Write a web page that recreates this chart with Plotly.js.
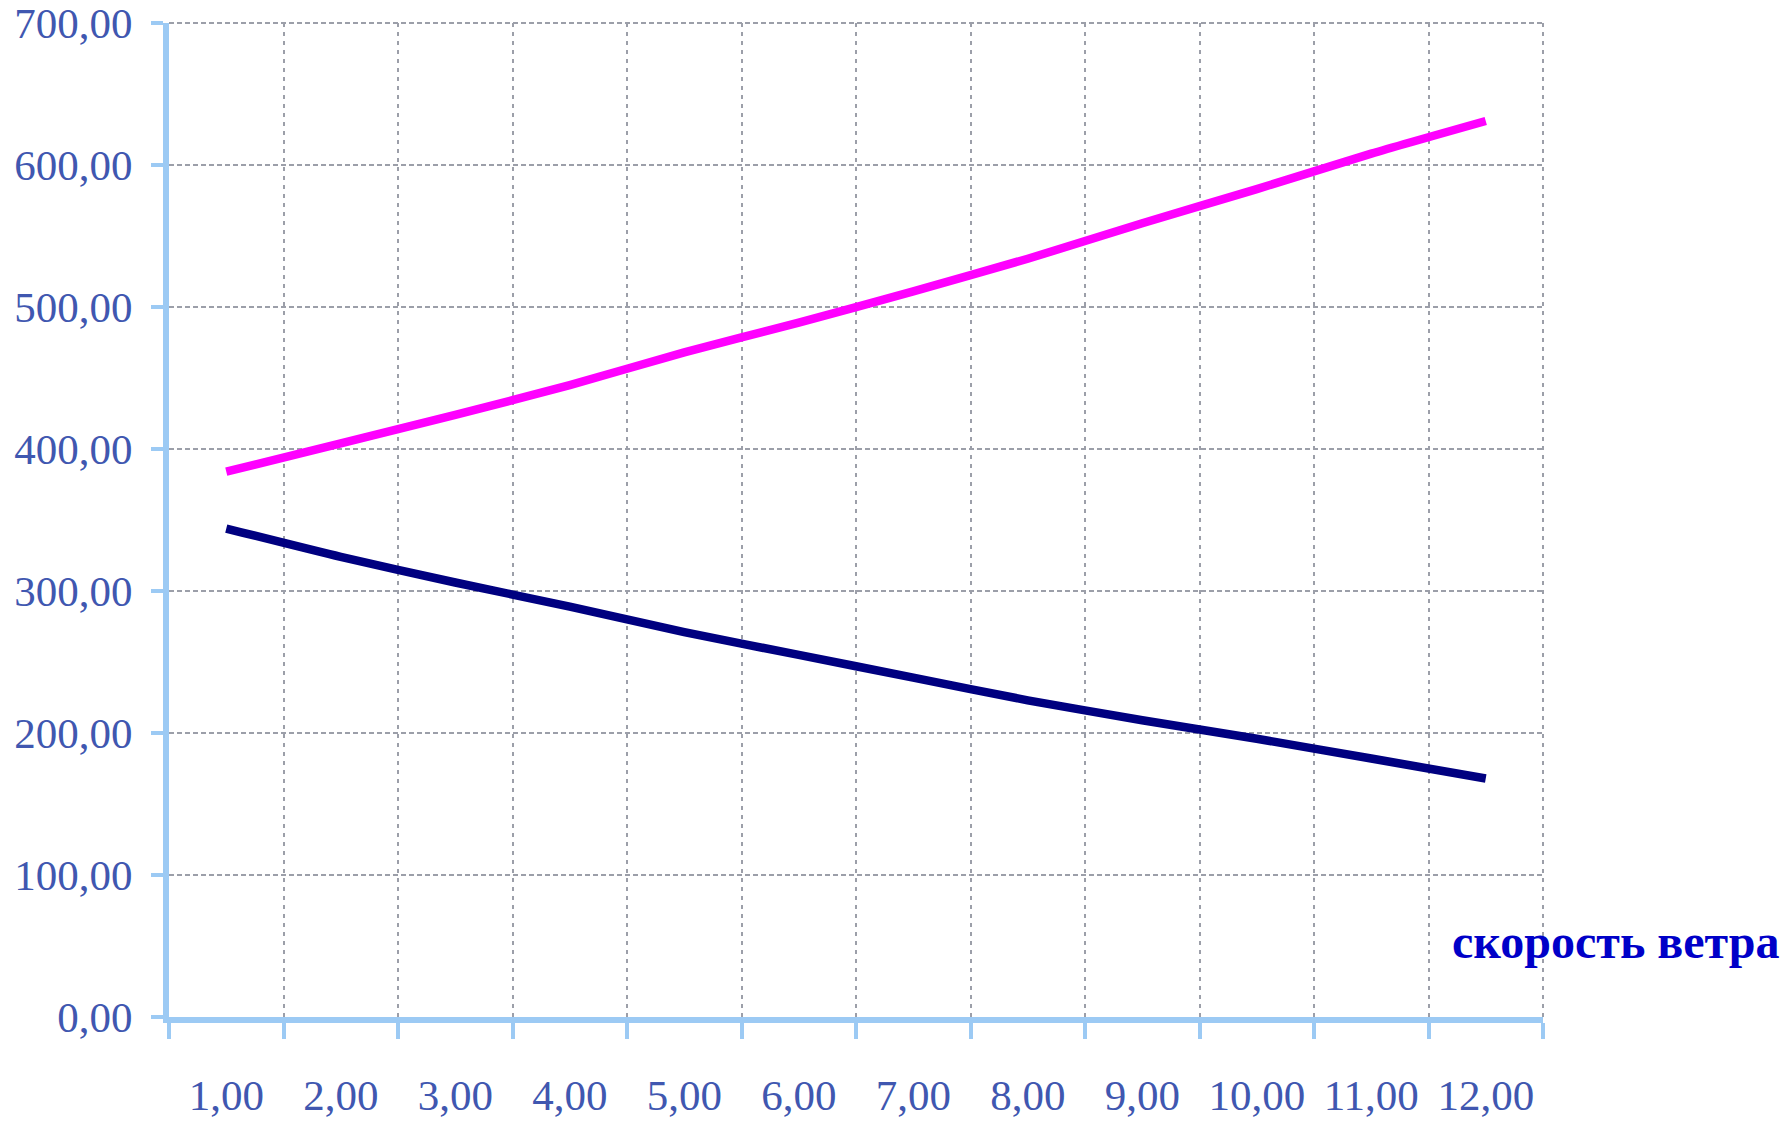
<!DOCTYPE html>
<html>
<head>
<meta charset="utf-8">
<script src="https://cdn.plot.ly/plotly-3.0.1.min.js"></script>
<style>html,body{margin:0;padding:0;background:#ffffff;}</style>
</head>
<body>
<div id="chart" style="width:1791px;height:1122px;"></div>
<script>
// Wind speed categories (x axis)
const categories = ["1,00","2,00","3,00","4,00","5,00","6,00","7,00","8,00","9,00","10,00","11,00","12,00"];
// Upper (magenta) series
const upperSeries = [384, 404, 424, 445, 468, 489, 511, 534, 559, 583, 608, 631];
// Lower (navy) series
const lowerSeries = [344, 324, 306, 289, 271, 255, 239, 223, 209, 196, 182, 168];
// Y tick values
const yTickValues = [0, 100, 200, 300, 400, 500, 600, 700];
const xAxisLabel = "скорость ветра";

const tickFont = {family: "Liberation Serif, 'Times New Roman', serif", size: 43, color: "#4057b0"};
const axisBlue = "#9ccaf4";
const gridGrey = "#9c9fa9";

const traces = [
  {x: categories, y: upperSeries, type: "scatter", mode: "lines",
   line: {color: "#ff00ff", width: 8.5, shape: "spline", smoothing: 0.6}, hoverinfo: "skip"},
  {x: categories, y: lowerSeries, type: "scatter", mode: "lines",
   line: {color: "#000080", width: 8.5, shape: "spline", smoothing: 0.6}, hoverinfo: "skip"}
];

const layout = {
  width: 1791, height: 1122,
  margin: {l: 169, r: 248, t: 23, b: 105, pad: 0},
  paper_bgcolor: "#ffffff", plot_bgcolor: "#ffffff",
  showlegend: false,
  separators: ", ",
  xaxis: {
    type: "category",
    range: [-0.5, categories.length - 0.5],
    tickson: "boundaries",
    showline: true, linecolor: axisBlue, linewidth: 6,
    ticks: "outside", ticklen: 16, tickwidth: 4, tickcolor: axisBlue,
    showgrid: true, gridcolor: gridGrey, gridwidth: 2, griddash: "4px,5px",
    zeroline: false,
    tickfont: tickFont,
    ticklabelstandoff: 35,
    fixedrange: true
  },
  yaxis: {
    range: [0, 700],
    tickmode: "array", tickvals: yTickValues, tickformat: ".2f",
    showline: true, linecolor: axisBlue, linewidth: 6,
    ticks: "outside", ticklen: 12, tickwidth: 4, tickcolor: axisBlue,
    showgrid: true, gridcolor: gridGrey, gridwidth: 2, griddash: "5px,3px",
    zeroline: false,
    tickfont: tickFont,
    ticklabelstandoff: 10,
    fixedrange: true
  },
  shapes: [
    {type: "line", xref: "paper", yref: "paper", x0: 0, x1: 1, y0: 1, y1: 1, layer: "below",
     line: {color: gridGrey, width: 2, dash: "5px,3px"}},
    {type: "line", xref: "paper", yref: "paper", x0: 1, x1: 1, y0: 0, y1: 1, layer: "below",
     line: {color: gridGrey, width: 2, dash: "4px,5px"}}
  ],
  annotations: [{
    text: "<b>" + xAxisLabel + "</b>",
    xref: "paper", yref: "paper",
    x: 0.9324, y: 0.0755, xanchor: "left", yanchor: "middle",
    showarrow: false,
    font: {family: "Liberation Serif, 'Times New Roman', serif", size: 48, color: "#0000c8"}
  }]
};

Plotly.newPlot("chart", traces, layout, {displayModeBar: false, staticPlot: true});
</script>
</body>
</html>
